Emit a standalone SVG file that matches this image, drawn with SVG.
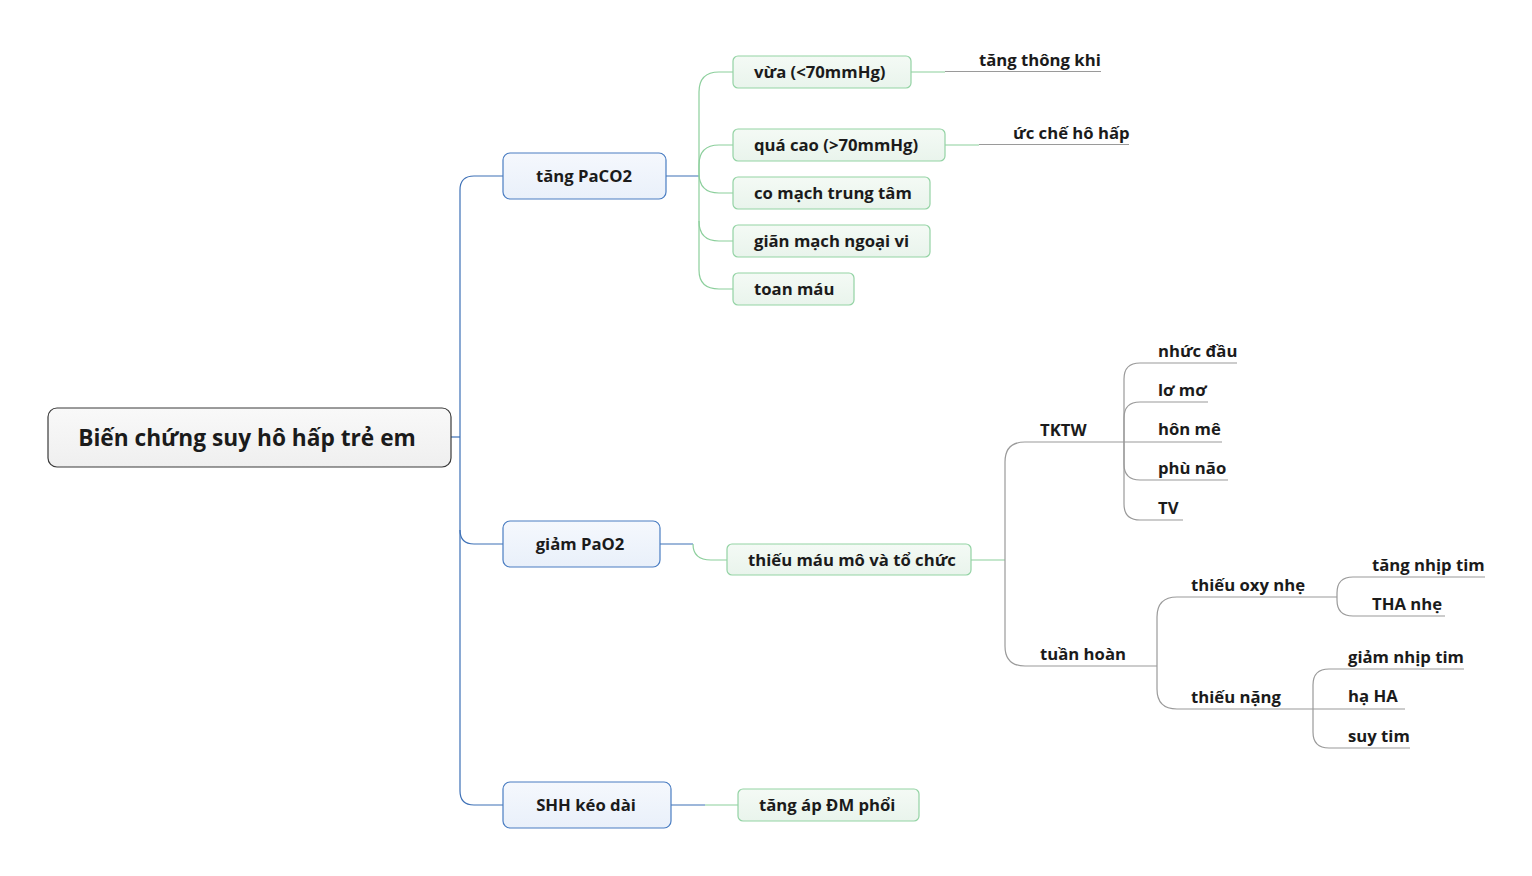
<svg xmlns="http://www.w3.org/2000/svg" width="1532" height="876" viewBox="0 0 1532 876">
<defs>
<linearGradient id="gRoot" x1="0" y1="0" x2="0" y2="1"><stop offset="0" stop-color="#f9f9f9"/><stop offset="1" stop-color="#efefef"/></linearGradient>
<linearGradient id="gBlue" x1="0" y1="0" x2="0" y2="1"><stop offset="0" stop-color="#f5f8fd"/><stop offset="1" stop-color="#e9f0fa"/></linearGradient>
<linearGradient id="gGreen" x1="0" y1="0" x2="0" y2="1"><stop offset="0" stop-color="#f4faf5"/><stop offset="1" stop-color="#e9f4ec"/></linearGradient>
</defs>
<style>
text{font-family:"Open Sans","Noto Sans","DejaVu Sans",sans-serif;font-weight:700;fill:#1b1b1b;font-size:16.7px}
.root{fill:url(#gRoot);stroke:#3a3a3a;stroke-width:1.2}
.l1{fill:url(#gBlue);stroke:#4a7dc2;stroke-width:1.2}
.l2{fill:url(#gGreen);stroke:#93d3a4;stroke-width:1.2}
.rt{font-size:22.7px}
.cb{fill:none;stroke:#3d70b6;stroke-width:1.2}
.cg{fill:none;stroke:#8ccf9c;stroke-width:1.2}
.cy{fill:none;stroke:#9a9a9a;stroke-width:1.2}
</style>
<g id="connectors">
<path class="cb" d="M451 437 H460"/>
<path class="cb" d="M503 176 H474 Q460 176 460 190 V791 Q460 805 474 805 H503"/>
<path class="cb" d="M460 530 Q460 544 474 544 H503"/>
<path class="cb" d="M666 176 H699"/>
<path class="cg" d="M733 72 H719 Q699 72 699 92 V270 Q699 289 719 289 H733"/>
<path class="cg" d="M733 145 H719 Q699 145 699 165 V173 Q699 193 719 193 H733"/>
<path class="cg" d="M699 221 Q699 241 719 241 H733"/>
<path class="cg" d="M911 72 H945"/>
<path class="cy" d="M945 71.5 H1101"/>
<path class="cg" d="M945 145 H979"/>
<path class="cy" d="M979 144.5 H1129"/>
<path class="cb" d="M660 544 H693"/>
<path class="cg" d="M693 544 Q693 560 711 560 H727"/>
<path class="cg" d="M971 560 H1005"/>
<path class="cy" d="M1005 560 V462 Q1005 442 1025 442 H1222"/>
<path class="cy" d="M1005 560 V646 Q1005 666 1025 666 H1157"/>
<path class="cy" d="M1158 363 H1140 Q1124 363 1124 379 V504 Q1124 520 1140 520 H1183"/>
<path class="cy" d="M1158 402 H1140 Q1124 402 1124 418 V464 Q1124 480 1140 480 H1228"/>
<path class="cy" d="M1158 363 H1237"/>
<path class="cy" d="M1158 402 H1208"/>
<path class="cy" d="M1157 666 V617 Q1157 597 1177 597 H1337"/>
<path class="cy" d="M1157 666 V689 Q1157 709 1177 709 H1405"/>
<path class="cy" d="M1372 577 H1353 Q1337 577 1337 593 V600 Q1337 616 1353 616 H1445"/>
<path class="cy" d="M1372 577 H1485"/>
<path class="cy" d="M1348 669 H1329 Q1313 669 1313 685 V732 Q1313 748 1329 748 H1410"/>
<path class="cy" d="M1348 669 H1464"/>
<path class="cb" d="M671 805 H705"/>
<path class="cg" d="M705 805 H738"/>
</g>
<g id="root"><rect class="root" x="48" y="408" width="403" height="59" rx="9"/><text class="rt" x="247" y="446" text-anchor="middle">Biến chứng suy hô hấp trẻ em</text></g>
<g id="n-paco2"><rect class="l1" x="503" y="153" width="163" height="46" rx="7"/><text x="584" y="182" text-anchor="middle">tăng PaCO2</text></g>
<g id="n-pao2"><rect class="l1" x="503" y="521" width="157" height="46" rx="7"/><text x="580" y="550" text-anchor="middle">giảm PaO2</text></g>
<g id="n-shh"><rect class="l1" x="503" y="782" width="168" height="46" rx="7"/><text x="586" y="811" text-anchor="middle">SHH kéo dài</text></g>
<g id="n-vua"><rect class="l2" x="733" y="56" width="178" height="32" rx="5"/><text x="754" y="78">vừa (&lt;70mmHg)</text></g>
<g id="n-quacao"><rect class="l2" x="733" y="129" width="212" height="32" rx="5"/><text x="754" y="151">quá cao (&gt;70mmHg)</text></g>
<g id="n-comach"><rect class="l2" x="733" y="177" width="197" height="32" rx="5"/><text x="754" y="199">co mạch trung tâm</text></g>
<g id="n-gianmach"><rect class="l2" x="733" y="225" width="197" height="32" rx="5"/><text x="754" y="247">giãn mạch ngoại vi</text></g>
<g id="n-toan"><rect class="l2" x="733" y="273" width="121" height="32" rx="5"/><text x="754" y="295">toan máu</text></g>
<g id="n-thieumau"><rect class="l2" x="727" y="544" width="244" height="31" rx="5"/><text x="748" y="566">thiếu máu mô và tổ chức</text></g>
<g id="n-tangap"><rect class="l2" x="738" y="789" width="181" height="32" rx="5"/><text x="759" y="811">tăng áp ĐM phổi</text></g>
<g id="n-tangthong"><text x="979" y="66">tăng thông khi</text></g>
<g id="n-ucche"><text x="1013" y="139">ức chế hô hấp</text></g>
<g id="n-tktw"><text x="1040" y="436">TKTW</text></g>
<g id="n-nhucdau"><text x="1158" y="357">nhức đầu</text></g>
<g id="n-lomo"><text x="1158" y="396">lơ mơ</text></g>
<g id="n-honme"><text x="1158" y="435">hôn mê</text></g>
<g id="n-phunao"><text x="1158" y="474">phù não</text></g>
<g id="n-tv"><text x="1158" y="514">TV</text></g>
<g id="n-tuanhoan"><text x="1040" y="660">tuần hoàn</text></g>
<g id="n-oxynhe"><text x="1191" y="591">thiếu oxy nhẹ</text></g>
<g id="n-nang"><text x="1191" y="703">thiếu nặng</text></g>
<g id="n-tangnhip"><text x="1372" y="571">tăng nhịp tim</text></g>
<g id="n-tha"><text x="1372" y="610">THA nhẹ</text></g>
<g id="n-giamnhip"><text x="1348" y="663">giảm nhịp tim</text></g>
<g id="n-haha"><text x="1348" y="702">hạ HA</text></g>
<g id="n-suytim"><text x="1348" y="742">suy tim</text></g>
</svg>
